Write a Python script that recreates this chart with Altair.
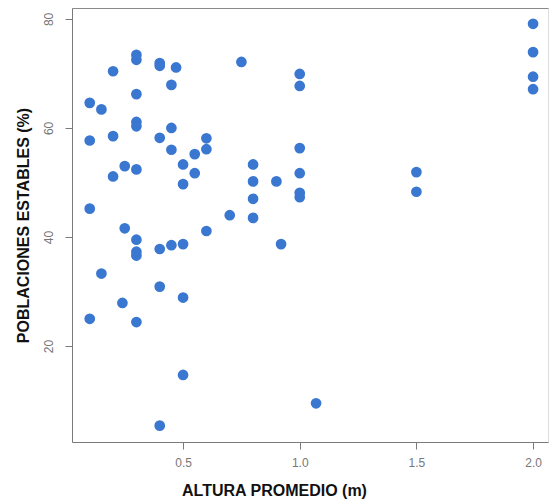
import altair as alt
import pandas as pd

altura = [0.1, 0.15, 0.1, 0.2, 0.2, 0.2, 0.25, 0.3, 0.3, 0.3, 0.3, 0.3, 0.3, 0.1, 0.25,
          0.3, 0.3, 0.3, 0.4, 0.4, 0.47, 0.45, 0.4, 0.45, 0.45, 0.5, 0.5, 0.55, 0.55, 0.6,
          0.6, 0.6, 0.7, 0.75, 0.8, 0.8, 0.8, 0.8, 0.9, 0.4, 0.45, 0.5, 0.92, 0.15, 0.4,
          0.5, 0.24, 0.1, 0.3, 0.5, 0.4, 2.0, 2.0, 2.0, 2.0, 1.0, 1.0, 1.0, 1.0, 1.0,
          1.0, 1.5, 1.5, 1.07]
estables = [64.6, 63.4, 57.7, 70.4, 58.5, 51.1, 53.0, 73.4, 72.5, 66.2, 61.1, 60.3, 52.4, 45.2, 41.6,
            39.5, 37.3, 36.6, 71.9, 71.4, 71.1, 67.9, 58.2, 60.0, 56.0, 53.3, 49.7, 55.2, 51.7, 58.1,
            56.1, 41.1, 44.0, 72.1, 53.3, 50.2, 47.0, 43.5, 50.2, 37.8, 38.5, 38.7, 38.7, 33.3, 30.9,
            28.9, 27.9, 25.0, 24.4, 14.7, 5.4, 79.1, 73.9, 69.4, 67.1, 69.9, 67.7, 56.3, 51.7, 48.1,
            47.3, 51.9, 48.3, 9.5]
x_ticks = [0.5, 1.0, 1.5, 2.0]
y_ticks = [20, 40, 60, 80]

df = pd.DataFrame({"altura": altura, "estables": estables})

axis_gray = "#7a7a7a"

x_enc = alt.X(
    "altura:Q",
    scale=alt.Scale(domain=[0.024, 2.064], nice=False, zero=False),
    axis=alt.Axis(
        values=x_ticks, format=".1f", grid=False,
        title="ALTURA PROMEDIO (m)", titleFont="Liberation Sans", titleFontSize=16,
        titleFontWeight="bold", titleColor="#111111",
        titleX=202, titleY=48, titleAlign="center", titleBaseline="middle",
        labelFont="Liberation Sans", labelFontSize=12, labelColor="#777777",
        labelPadding=8, tickSize=7, tickColor=axis_gray, domainColor=axis_gray,
    ),
)
y_enc = alt.Y(
    "estables:Q",
    scale=alt.Scale(domain=[2.4, 82], nice=False, zero=False),
    axis=alt.Axis(
        values=y_ticks, grid=False,
        title="POBLACIONES ESTABLES (%)", titleFont="Liberation Sans", titleFontSize=16,
        titleFontWeight="bold", titleColor="#111111",
        titleX=-49, titleY=217, titleAlign="center", titleBaseline="middle", titleAngle=270,
        labelFont="Liberation Sans", labelFontSize=12, labelColor="#777777",
        labelAngle=270, labelAlign="center", labelBaseline="bottom", labelPadding=10,
        tickSize=7, tickColor=axis_gray, domainColor=axis_gray,
    ),
)

points = alt.Chart(df).mark_circle(size=115, color="#3a77d0", opacity=1).encode(
    x=x_enc, y=y_enc
)

top = alt.Chart(df).mark_circle(opacity=0).encode(
    x=alt.X("altura:Q", axis=alt.Axis(orient="top", labels=False, ticks=False, title=None,
                                       grid=False, domainColor="#8a8a8a")),
)

chart = alt.layer(points, top).resolve_axis(x="independent").properties(
    width=476, height=434,
    autosize=alt.AutoSizeParams(type="none"),
    padding={"left": 72, "top": 8, "right": 1, "bottom": 62},
).configure_view(stroke=None).configure(background="white")

chart.save("out.html", embed_options={"renderer": "svg", "actions": False})
